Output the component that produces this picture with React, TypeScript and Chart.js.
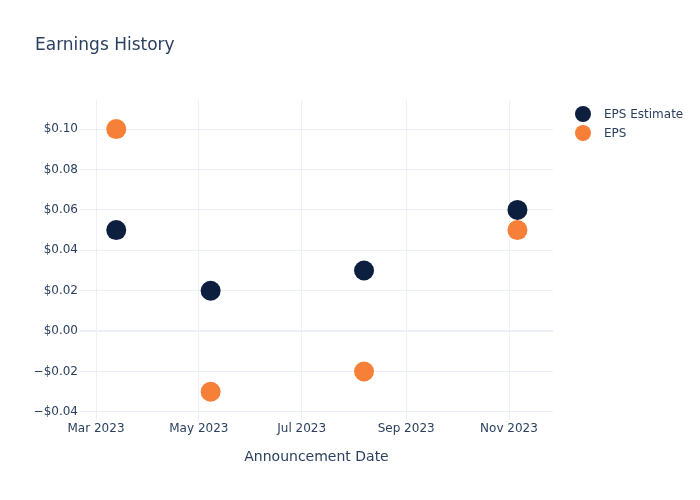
import React, { useEffect, useRef } from "react";
import { Chart, registerables } from "chart.js";

Chart.register(...registerables);

const announcementDates = ["2023-03-13", "2023-05-08", "2023-08-07", "2023-11-06"];
const epsEstimate = [0.05, 0.02, 0.03, 0.06];
const epsActual = [0.1, -0.03, -0.02, 0.05];
const xTickDates = ["2023-03-01", "2023-05-01", "2023-07-01", "2023-09-01", "2023-11-01"];
const xTickLabels = ["Mar 2023", "May 2023", "Jul 2023", "Sep 2023", "Nov 2023"];
const yTickValues = [-0.04, -0.02, 0, 0.02, 0.04, 0.06, 0.08, 0.1];
const seriesNames = ["EPS Estimate", "EPS"];
const seriesColors = ["#0c1f3f", "#f68038"];

const DAY = 86400000;
const ts = (d: string) => Date.parse(d + "T00:00:00Z");
const FONT = "'DejaVu Sans', sans-serif";
const TEXT = "#2a3f5f";
const GRID = "#ebf0f8";

function fmtMoney(v: number) {
  const a = Math.abs(v).toFixed(2);
  return (v < -1e-9 ? "\u2212$" : "$") + a;
}

export default function App() {
  const ref = useRef<HTMLCanvasElement | null>(null);

  useEffect(() => {
    document.body.style.margin = "0";
    const canvas = ref.current;
    if (!canvas) return;

    const overlay = {
      id: "overlay",
      afterDraw(chart: any) {
        const ctx = chart.ctx;
        ctx.save();
        ctx.fillStyle = TEXT;
        ctx.font = `17px ${FONT}`;
        ctx.textAlign = "left";
        ctx.textBaseline = "alphabetic";
        ctx.fillText("Earnings History", 35, 50);
        ctx.font = `12px ${FONT}`;
        ctx.textBaseline = "middle";
        seriesNames.forEach((name, i) => {
          const y = 114 + i * 19;
          ctx.beginPath();
          ctx.arc(583, y, 8, 0, Math.PI * 2);
          ctx.fillStyle = seriesColors[i];
          ctx.fill();
          ctx.fillStyle = TEXT;
          ctx.fillText(name, 604, y + 1);
        });
        ctx.restore();
      },
    };

    const chart = new Chart(canvas, {
      type: "scatter",
      data: {
        datasets: [
          {
            label: seriesNames[0],
            data: announcementDates.map((d, i) => ({ x: ts(d), y: epsEstimate[i] })),
            backgroundColor: seriesColors[0],
            borderColor: seriesColors[0],
            pointRadius: 10,
            pointBorderWidth: 0,
          },
          {
            label: seriesNames[1],
            data: announcementDates.map((d, i) => ({ x: ts(d), y: epsActual[i] })),
            backgroundColor: seriesColors[1],
            borderColor: seriesColors[1],
            pointRadius: 10,
            pointBorderWidth: 0,
          },
        ],
      },
      options: {
        animation: false,
        responsive: false,
        maintainAspectRatio: false,
        layout: { padding: { left: 0, top: 100, right: 147, bottom: 0 } },
        plugins: {
          legend: { display: false },
          tooltip: { enabled: false },
          title: { display: false },
        },
        scales: {
          x: {
            type: "linear",
            min: ts("2023-03-01") - 9.5 * DAY,
            max: ts("2023-03-01") + 271.1 * DAY,
            afterFit: (s: any) => {
              s.height = 80;
            },
            afterBuildTicks: (s: any) => {
              s.ticks = xTickDates.map((d) => ({ value: ts(d) }));
            },
            ticks: {
              callback: (v: any) => {
                const i = xTickDates.findIndex((d) => ts(d) === v);
                return i >= 0 ? xTickLabels[i] : "";
              },
              color: TEXT,
              font: { family: FONT, size: 12 },
              padding: 2,
              maxRotation: 0,
              autoSkip: false,
            },
            grid: { color: GRID, drawTicks: false, lineWidth: 1 },
            border: { display: false },
            title: {
              display: true,
              text: "Announcement Date",
              color: TEXT,
              font: { family: FONT, size: 14 },
              padding: { top: 0, bottom: 34 },
            },
          },
          y: {
            type: "linear",
            min: -0.044,
            max: 0.1144,
            afterFit: (s: any) => {
              s.width = 80;
            },
            afterBuildTicks: (s: any) => {
              s.ticks = yTickValues.map((v) => ({ value: v }));
            },
            ticks: {
              callback: (v: any) => fmtMoney(Number(v)),
              color: TEXT,
              font: { family: FONT, size: 12 },
              padding: 2,
              autoSkip: false,
            },
            grid: {
              color: GRID,
              drawTicks: false,
              lineWidth: (c: any) => (c.tick && Math.abs(c.tick.value) < 1e-9 ? 2 : 1),
            },
            border: { display: false },
          },
        },
      },
      plugins: [overlay],
    } as any);

    return () => chart.destroy();
  }, []);

  return (
    <div style={{ width: 700, height: 500, background: "#fff" }}>
      <canvas ref={ref} width={700} height={500} style={{ display: "block" }} />
    </div>
  );
}
